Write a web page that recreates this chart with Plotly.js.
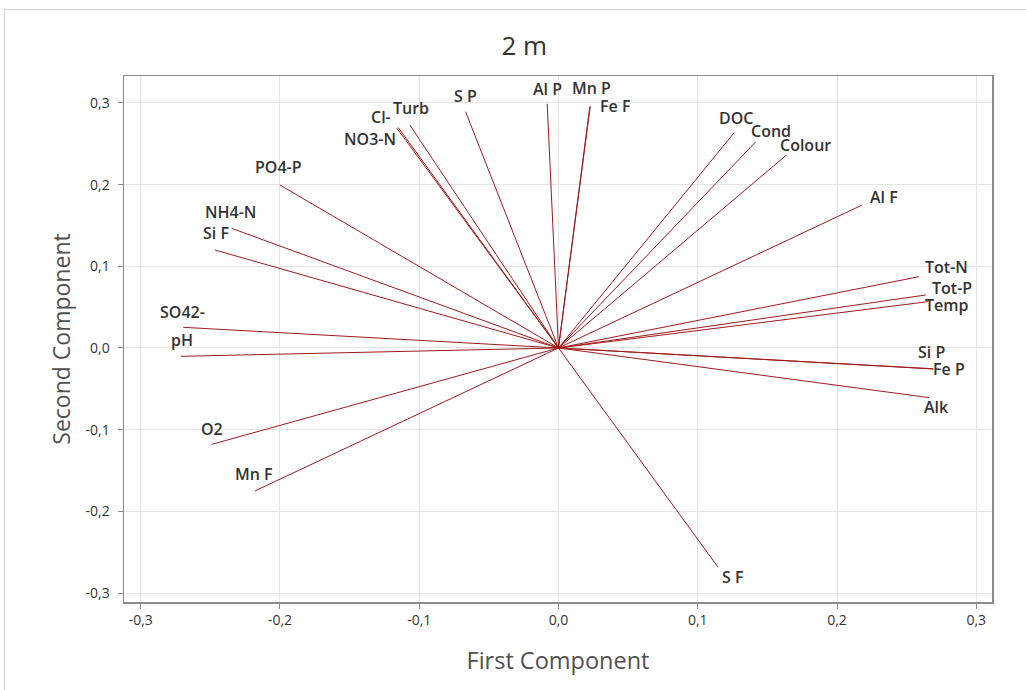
<!DOCTYPE html>
<html>
<head>
<meta charset="utf-8">
<script src="https://cdn.plot.ly/plotly-3.0.1.min.js"></script>
<style>
  html, body { margin: 0; padding: 0; background: #fff; }
  #frame { position: absolute; left: 4px; top: 9px; width: 1030px; height: 700px;
           border-left: 1px solid #d4d4d4; border-top: 1px solid #d4d4d4; }
  #chart { position: absolute; left: 0; top: 0; width: 1026px; height: 690px; }
</style>
</head>
<body>
<div id="frame"></div>
<div id="chart"></div>
<script>
// Variable names (loading vectors)
const variables = ["S F", "Mn F", "O2", "pH", "SO42-", "Si F", "NH4-N", "PO4-P",
  "NO3-N", "Cl-", "Turb", "S P", "Al P", "Mn P", "Fe F", "DOC", "Cond", "Colour",
  "Al F", "Tot-N", "Tot-P", "Temp", "Si P", "Fe P", "Alk"];
// First component loadings
const firstComponent = [0.1144, -0.2179, -0.2490, -0.2711, -0.2694, -0.2467, -0.2347, -0.2000,
  -0.1160, -0.1151, -0.1067, -0.0667, -0.0081, 0.0228, 0.0225, 0.1261, 0.1417, 0.1637,
  0.2180, 0.2589, 0.2637, 0.2654, 0.2690, 0.2692, 0.2661];
// Second component loadings
const secondComponent = [-0.2680, -0.1750, -0.1180, -0.0102, 0.0253, 0.1200, 0.1465, 0.1995,
  0.2690, 0.2700, 0.2730, 0.2892, 0.2990, 0.2960, 0.2955, 0.2635, 0.2525, 0.2362,
  0.1750, 0.0873, 0.0649, 0.0567, -0.0257, -0.0255, -0.0608];
// Tick labels
const tickValues = [-0.3, -0.2, -0.1, 0.0, 0.1, 0.2, 0.3];
const tickLabels = ["-0,3", "-0,2", "-0,1", "0,0", "0,1", "0,2", "0,3"];

// Label pixel shifts (layout only): [dx, dy up]
const labelShift = [[15,-10],[-1,17],[0,15],[1,16],[-1,15],[1,17],[-1,16],[-1,18],
  [-27,-11],[-17,10],[1,17],[0,16],[0,15],[1,18],[25,1],[2,15],[15,11],[19,10],
  [22,8],[27,10],[26,7],[19,-3],[-2,17],[16,0],[7,-9]];

const lx = [], ly = [];
variables.forEach((v, i) => {
  lx.push(0, firstComponent[i], null);
  ly.push(0, secondComponent[i], null);
});

const traces = [{
  type: "scatter", mode: "lines", x: lx, y: ly,
  line: { color: "#a01a1a", width: 1 },
  hoverinfo: "skip", showlegend: false
}];

const annotations = variables.map((v, i) => ({
  x: firstComponent[i], y: secondComponent[i], xref: "x", yref: "y",
  text: v, showarrow: false,
  xshift: labelShift[i][0], yshift: labelShift[i][1],
  font: { family: "Open Sans, sans-serif", size: 16, color: "#333", weight: 600 }
}));

const axisCommon = {
  tickmode: "array", tickvals: tickValues, ticktext: tickLabels,
  showgrid: true, gridcolor: "#e4e4e4", gridwidth: 1,
  zeroline: false, showline: true, linecolor: "#8a8a8a", linewidth: 1.5, mirror: true,
  ticks: "outside", ticklen: 5, tickcolor: "#8a8a8a",
  tickfont: { family: "Open Sans, sans-serif", size: 14, color: "#333" }
};

const layout = {
  width: 1026, height: 690,
  paper_bgcolor: "rgba(0,0,0,0)", plot_bgcolor: "#fff",
  margin: { l: 124, r: 34, t: 76, b: 88 },
  title: { text: "2 m", x: 0.511, xanchor: "center", y: 0.933, yanchor: "middle",
           font: { family: "Open Sans, sans-serif", size: 26, color: "#333" } },
  xaxis: Object.assign({}, axisCommon, {
    range: [-0.312, 0.3113],
    title: { text: "First Component", standoff: 24,
             font: { family: "Open Sans, sans-serif", size: 23.5, color: "#505050" } }
  }),
  yaxis: Object.assign({}, axisCommon, {
    range: [-0.311, 0.333],
    ticklabelstandoff: 5,
    title: { text: "Second Component", standoff: 8,
             font: { family: "Open Sans, sans-serif", size: 23, color: "#505050" } }
  }),
  annotations: annotations
};

Plotly.newPlot("chart", traces, layout, { displayModeBar: false, staticPlot: true });
</script>
</body>
</html>
